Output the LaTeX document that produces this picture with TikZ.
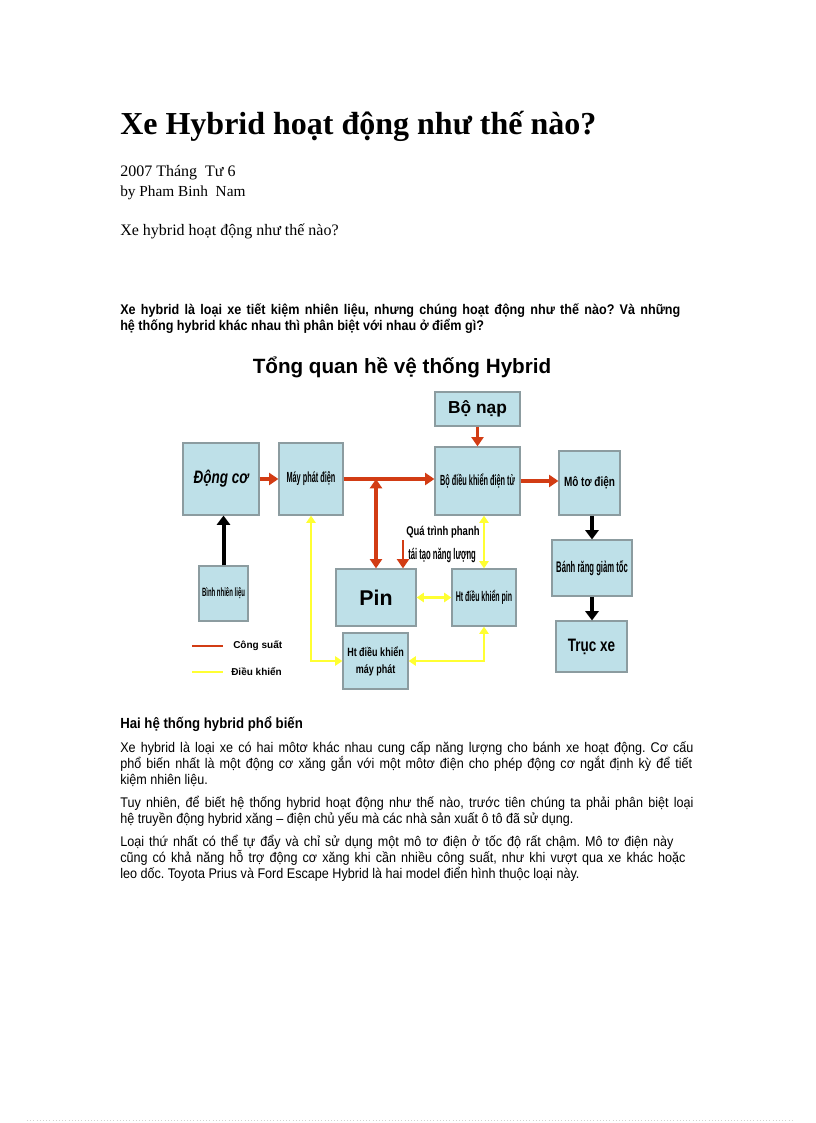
\documentclass[tikz,border=0pt]{standalone}
\usepackage{fontspec}
\setmainfont{Liberation Serif}
\setsansfont{Liberation Sans}
\newfontfamily\arialfont{Liberation Sans}
\newfontfamily\bodyfont[FakeStretch=0.9]{Liberation Sans}
\newfontfamily\narrowfont[FakeStretch=0.75]{Liberation Sans}
\newfontfamily\tightfont[FakeStretch=0.5]{Liberation Sans}
\usepackage{tikz}
\usetikzlibrary{positioning, calc, arrows.meta}
\frenchspacing

\definecolor{boxblue}{RGB}{190,224,232}
\definecolor{boxgray}{RGB}{140,156,160}
\definecolor{powerred}{RGB}{210,60,20}
\definecolor{ctrlyellow}{RGB}{255,255,50}

% one line of text spread to a given width
\newcommand{\jline}[2]{\makebox[#1][s]{#2}}

\tikzset{
  blok/.style={draw=boxgray, line width=0.9pt, fill=boxblue, inner sep=0pt, align=center},
  txt/.style={anchor=base west, inner sep=0pt},
  power/.style={draw=powerred, line width=2.6pt, -{Triangle[length=7pt,width=9pt]}},
  powerboth/.style={power, {Triangle[length=7pt,width=9pt]}-{Triangle[length=7pt,width=9pt]}},
  drive/.style={draw=black, line width=3pt, -{Triangle[length=7pt,width=10pt]}},
  ctrl/.style={draw=ctrlyellow, line width=1.6pt, {Triangle[length=5.5pt,width=7pt]}-{Triangle[length=5.5pt,width=7pt]}},
}

\begin{document}
\begin{tikzpicture}[x=0.75pt, y=-0.75pt]
  \useasboundingbox (0,0) rectangle (816,1123);

  % heading and intro
  \node[txt, font=\bfseries\fontsize{24}{28}\selectfont] (title) at (120,135) {Xe Hybrid hoạt động như thế nào?};
  \node[txt, font=\fontsize{12}{14}\selectfont] (date) at (120,177) {2007 Tháng~ Tư 6};
  \node[txt, font=\fontsize{11.5}{14}\selectfont] (author) at (120,197) {by Pham Binh~ Nam};
  \node[txt, font=\fontsize{12}{14}\selectfont] (sub) at (120,236) {Xe hybrid hoạt động như thế nào?};

  \node[txt, font=\bodyfont\bfseries\fontsize{10.5}{12}\selectfont] (q1) at (120,314)
    {\jline{420pt}{Xe hybrid là loại xe tiết kiệm nhiên liệu, nhưng chúng hoạt động như thế nào? Và những}};
  \node[txt, font=\bodyfont\bfseries\fontsize{10.5}{12}\selectfont] (q2) at (120,330)
    {hệ thống hybrid khác nhau thì phân biệt với nhau ở điểm gì?};

  % diagram
  \node[font=\arialfont\bfseries\fontsize{15.5}{18}\selectfont] (dtitle) at (402,367) {Tổng quan hề vệ thống Hybrid};

  \node[blok, minimum width=63.75pt, minimum height=25.5pt, font=\arialfont\bfseries\fontsize{13}{15}\selectfont] (bonap) at (477.5,409) {Bộ nạp};
  \node[blok, minimum width=57pt, minimum height=54pt, font=\narrowfont\bfseries\itshape\fontsize{13.5}{15}\selectfont] (donco) at (221,479) {Động cơ};
  \node[blok, minimum width=48pt, minimum height=54pt, font=\tightfont\bfseries\fontsize{11}{13}\selectfont] (mayphat) at (311,479) {Máy phát điện};
  \node[blok, minimum width=63.75pt, minimum height=51pt, font=\tightfont\bfseries\fontsize{11}{13}\selectfont] (bodk) at (477.5,481) {Bộ điều khiển điện tử};
  \node[blok, minimum width=45.75pt, minimum height=48pt, font=\narrowfont\bfseries\fontsize{10}{12}\selectfont] (moto) at (589.5,483) {Mô tơ điện};
  \node[blok, minimum width=36.75pt, minimum height=41.25pt, font=\tightfont\bfseries\fontsize{9}{11}\selectfont] (binh) at (223.5,593.5) {Bình nhiên liệu};
  \node[blok, minimum width=60pt, minimum height=42.75pt, font=\arialfont\bfseries\fontsize{16}{18}\selectfont] (pin) at (376,597.5) {Pin};
  \node[blok, minimum width=48pt, minimum height=42.75pt, font=\tightfont\bfseries\fontsize{10.5}{12}\selectfont] (htpin) at (484,597.5) {Ht điều khiển pin};
  \node[blok, minimum width=48.75pt, minimum height=42pt, font=\narrowfont\bfseries\fontsize{9}{12.75}\selectfont] (htmay) at (375.5,661) {Ht điều khiển\\máy phát};
  \node[blok, minimum width=60pt, minimum height=42pt, font=\tightfont\bfseries\fontsize{11.5}{13}\selectfont] (banhrang) at (592,568) {Bánh răng giảm tốc};
  \node[blok, minimum width=53.25pt, minimum height=38.25pt, font=\narrowfont\bfseries\fontsize{13.5}{15}\selectfont] (trucxe) at (591.5,646.5) {Trục xe};

  \node[anchor=west, inner sep=0pt, font=\narrowfont\bfseries\fontsize{9.5}{11}\selectfont] (phanh1) at (406,532) {Quá trình phanh};
  \node[anchor=west, inner sep=0pt, font=\tightfont\bfseries\fontsize{11.5}{13}\selectfont] (phanh2) at (408,555) {tái tạo năng lượng};
  \coordinate (phanh) at (403,540);
  \coordinate (jn) at (pin.north |- mayphat.east);

  % power flow
  \draw[power] (donco.east) -- (mayphat.west);
  \draw[power] (mayphat.east) -- (mayphat.east -| bodk.west);
  \draw[power] (bonap.south) -- (bodk.north);
  \draw[power] (bodk.east) -- (bodk.east -| moto.west);
  \draw[powerboth] (jn) -- (pin.north);
  \draw[power, line width=2pt] (phanh) -- (phanh |- pin.north);

  % drive line
  \draw[drive] (binh.north) -- (binh.north |- donco.south);
  \draw[drive] (banhrang.north |- moto.south) -- (banhrang.north);
  \draw[drive] (banhrang.south) -- (banhrang.south |- trucxe.north);

  % control
  \draw[ctrl] (mayphat.south) |- (htmay.west);
  \draw[ctrl] (htpin.north |- bodk.south) -- (htpin.north);
  \draw[ctrl] (pin.east) -- (htpin.west);
  \draw[ctrl] (htpin.south) |- (htmay.east);

  % legend
  \node[anchor=west, inner sep=0pt, font=\arialfont\bfseries\fontsize{7.5}{9}\selectfont] (lgpower) at (233,646) {Công suất};
  \node[anchor=west, inner sep=0pt, font=\arialfont\bfseries\fontsize{7.5}{9}\selectfont] (lgctrl) at (231,672) {Điều khiển};
  \draw[draw=powerred, line width=2.2pt] (192,646) -- (223,646);
  \draw[draw=ctrlyellow, line width=2.2pt] (192,672) -- (223,672);

  % second part
  \node[txt, font=\bodyfont\bfseries\fontsize{11}{13}\selectfont] (h2) at (120,728) {Hai hệ thống hybrid phổ biến};
  \begin{scope}[every node/.style={txt, font=\bodyfont\fontsize{10.5}{12}\selectfont}]
    \node (l1) at (120,752) {\jline{430pt}{Xe hybrid là loại xe có hai môtơ khác nhau cung cấp năng lượng cho bánh xe hoạt động. Cơ cấu}};
    \node (l2) at (120,768) {\jline{429pt}{phổ biến nhất là một động cơ xăng gắn với một môtơ điện cho phép động cơ ngắt định kỳ để tiết}};
    \node (l3) at (120,784) {kiệm nhiên liệu.};
    \node (l4) at (120,807) {\jline{430pt}{Tuy nhiên, để biết hệ thống hybrid hoạt động như thế nào, trước tiên chúng ta phải phân biệt loại}};
    \node (l5) at (120,823) {hệ truyền động hybrid xăng – điện chủ yếu mà các nhà sản xuất ô tô đã sử dụng.};
    \node (l6) at (120,846) {\jline{415pt}{Loại thứ nhất có thể tự đẩy và chỉ sử dụng một mô tơ điện ở tốc độ rất chậm. Mô tơ điện này}};
    \node (l7) at (120,862) {\jline{424pt}{cũng có khả năng hỗ trợ động cơ xăng khi cần nhiều công suất, như khi vượt qua xe khác hoặc}};
    \node (l8) at (120,878) {leo dốc. Toyota Prius và Ford Escape Hybrid là hai model điển hình thuộc loại này.};
  \end{scope}

  \draw[gray!35, dotted] (27,1120) -- (793,1120);
\end{tikzpicture}
\end{document}
